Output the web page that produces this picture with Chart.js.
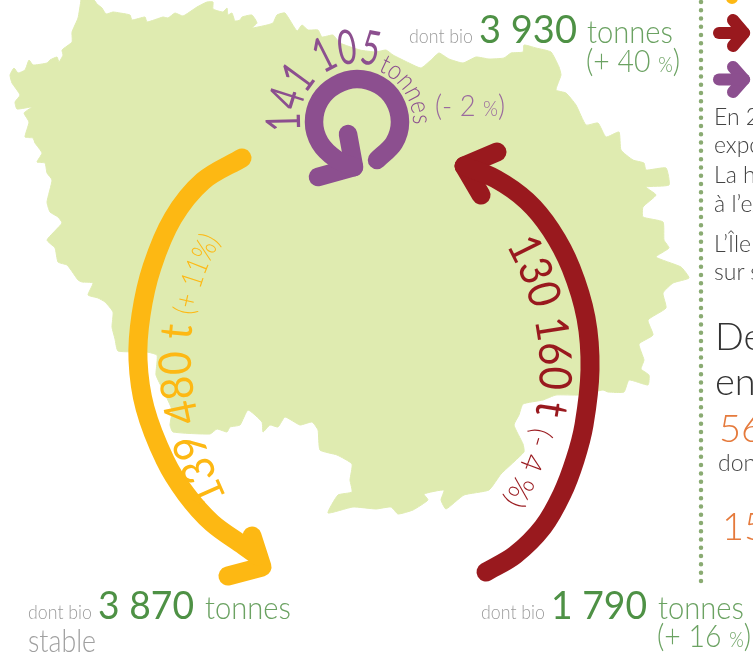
<!DOCTYPE html>
<html lang="fr">
<head>
<meta charset="utf-8">
<title>Flux de céréales</title>
<script src="https://cdn.jsdelivr.net/npm/chart.js@4"></script>
<style>
    html, body { margin: 0; padding: 0; background: #fff; overflow: hidden; }
    #zone { position: relative; width: 753px; height: 654px; overflow: hidden; }
    canvas { display: block; }
    svg { position: absolute; left: 0; top: 0; }
    text { font-family: Lato, sans-serif; font-weight: 300; }
    .bio { font-size: 19px; fill: #9b9b9b; }
    .nb { font-size: 38px; fill: #4e9145; font-weight: 400; }
    .t { font-size: 32px; fill: #6ba262; }
    .pct { font-size: 21px; }
    .corps { font-size: 23px; fill: #444; }
    .titre { font-size: 38px; fill: #333; }
    .orange { font-size: 38px; fill: #e57a3c; }
    .grand { font-size: 45px; font-weight: 400; }
    .petit { font-size: 30px; }
</style>
</head>
<body>
<div id="zone">
<canvas id="carte" width="753" height="654"></canvas>
<svg width="753" height="654" viewBox="0 0 753 654">
    <defs>
        <path id="arcViolet1" d="M 301 131 A 57 57 0 0 1 390 74"/>
        <path id="arcViolet2" d="M 378 71 A 55 55 0 0 1 410 140"/>
        <path id="arcJaune" d="M 227 498 Q 155 345 226 232"/>
        <path id="arcRouge" d="M 506 245 Q 577 374 498 510"/>
    </defs>

    <text class="bio" x="409" y="43" textLength="64" lengthAdjust="spacingAndGlyphs">dont bio</text>
    <text class="nb" x="479" y="43" textLength="98" lengthAdjust="spacingAndGlyphs">3 930</text>
    <text class="t" x="587" y="43" textLength="86" lengthAdjust="spacingAndGlyphs">tonnes</text>
    <text class="t" x="586" y="72" textLength="94" lengthAdjust="spacingAndGlyphs">(+ 40 <tspan class="pct">%</tspan>)</text>

    <text class="bio" x="28" y="619" textLength="64" lengthAdjust="spacingAndGlyphs">dont bio</text>
    <text class="nb" x="98" y="619" textLength="96" lengthAdjust="spacingAndGlyphs">3 870</text>
    <text class="t" x="205" y="619" textLength="86" lengthAdjust="spacingAndGlyphs">tonnes</text>
    <text class="t" x="28" y="652" textLength="68" lengthAdjust="spacingAndGlyphs" style="fill:#a0a0a0">stable</text>

    <text class="bio" x="481" y="619" textLength="64" lengthAdjust="spacingAndGlyphs">dont bio</text>
    <text class="nb" x="551" y="619" textLength="96" lengthAdjust="spacingAndGlyphs">1 790</text>
    <text class="t" x="658" y="619" textLength="86" lengthAdjust="spacingAndGlyphs">tonnes</text>
    <text class="t" x="657" y="647" textLength="94" lengthAdjust="spacingAndGlyphs">(+ 16 <tspan class="pct">%</tspan>)</text>

    <text class="grand" style="fill:#8c4f8f;font-size:48px"><textPath href="#arcViolet1" textLength="120" lengthAdjust="spacingAndGlyphs">141 105</textPath></text>
    <text style="font-size:27px;fill:#8c4f8f"><textPath href="#arcViolet2" textLength="68" lengthAdjust="spacingAndGlyphs">tonnes</textPath></text>
    <text class="t" style="fill:#9a6a9e;font-size:30px" x="435" y="116" textLength="70" lengthAdjust="spacingAndGlyphs">(- 2 <tspan class="pct">%</tspan>)</text>

    <text class="grand" style="fill:#fdb813"><textPath href="#arcJaune" textLength="178" lengthAdjust="spacingAndGlyphs">139 480 t</textPath></text>
    <text class="petit" style="fill:#fdb813"><textPath href="#arcJaune" startOffset="188" textLength="80" lengthAdjust="spacingAndGlyphs">(+ 11%)</textPath></text>
    <text class="grand" style="fill:#99191e"><textPath href="#arcRouge" textLength="175" lengthAdjust="spacingAndGlyphs">130 160 t</textPath></text>
    <text class="petit" style="fill:#99191e"><textPath href="#arcRouge" startOffset="188" textLength="80" lengthAdjust="spacingAndGlyphs">(- 4 %)</textPath></text>

    <text class="corps" x="714" y="125">En 2</text>
    <text class="corps" x="714" y="153">expo</text>
    <text class="corps" x="714" y="183">La h</text>
    <text class="corps" x="714" y="212">à l’ex</text>
    <text class="corps" x="714" y="252">L’Île</text>
    <text class="corps" x="714" y="280">sur s</text>
    <text class="titre" x="715" y="350">De</text>
    <text class="titre" x="715" y="395">en</text>
    <text class="orange" x="719" y="442">56</text>
    <text class="corps" x="718" y="471">don</text>
    <text class="orange" x="722" y="540">15</text>
</svg>
</div>

<script>
const contourCarte = [
    [81,0],[94,0],[97,4],[102,8],[106,14],[113,12],[120,13],[130,15],[132,20],[145,17],[147,22],[163,17],[168,18],
    [175,13],[183,16],[197,7],[207,2],[213,2],[213,9],[223,12],[227,8],[228,15],[232,13],[235,21],[240,20],[242,17],
    [252,15],[257,23],[252,28],[267,25],[273,23],[277,15],[285,13],[297,31],[302,25],[308,30],[318,30],[322,37],
    [333,35],[340,43],[360,50],[376,52],[386,50],[393,55],[409,63],[421,68],[431,60],[439,53],[449,59],[463,63],
    [476,57],[489,59],[504,58],[511,53],[523,52],[524,45],[536,48],[551,52],[559,67],[561,75],[556,90],[566,93],
    [576,105],[586,125],[598,123],[606,137],[619,132],[621,150],[633,160],[644,163],[646,170],[666,168],[669,185],
    [646,187],[656,195],[643,207],[643,217],[663,222],[664,240],[669,248],[656,257],[681,267],[689,278],[673,283],
    [663,293],[666,308],[648,320],[653,335],[639,344],[644,360],[641,369],[649,375],[648,385],[629,380],[624,392],
    [608,392],[603,390],[579,395],[556,395],[543,400],[523,404],[519,415],[514,425],[523,444],[524,452],[501,474],
    [489,490],[464,495],[446,509],[441,500],[444,490],[424,494],[428,500],[413,510],[398,514],[391,507],[376,509],
    [353,507],[328,513],[338,495],[352,492],[350,480],[352,464],[337,455],[320,450],[318,430],[312,422],[300,425],
    [285,417],[278,427],[270,425],[263,432],[262,422],[248,410],[240,425],[230,427],[227,432],[217,429],[210,434],
    [173,432],[170,425],[172,410],[163,390],[156,375],[157,362],[157,355],[147,352],[118,351],[115,339],[112,327],
    [113,312],[105,302],[98,298],[88,295],[93,283],[82,282],[78,280],[71,270],[67,265],[58,262],[55,248],[47,240],
    [62,223],[58,217],[50,212],[47,202],[52,180],[47,173],[45,163],[37,162],[42,153],[35,143],[33,138],[25,137],
    [29,122],[24,113],[32,107],[17,109],[15,102],[20,95],[12,83],[10,75],[14,68],[18,73],[25,70],[29,60],[33,65],
    [47,63],[50,60],[57,57],[59,62],[63,55],[62,50],[72,42],[72,32],[78,18],[81,0]
];

const fluxJaune = [[242,158],[203,181],[173,218],[152,267],[141,315],[138,360],[145,408],[165,460],[186,494],[212,523],[244,546],[258,556]];
const pointeJaune = [[252,536],[262,567],[228,576]];
const fluxRouge = [[486,572],[515,555],[543,527],[562,494],[575,460],[584,425],[590,370],[586,318],[571,268],[551,230],[527,201],[496,179],[464,166]];
const pointeRouge = [[497,152],[464,166],[481,195]];
const fluxViolet = [[377,160],[394,143],[400,122],[394,100],[379,85],[357,79],[336,85],[320,100],[314,122],[320,143],[336,159],[354,167]];
const pointeViolet = [[348,134],[354,167],[318,177]];

const traitPointille = [[701,2],[701,583]];
const legendeJaune = [[732,-10],[732,-2]];
const legendeRouge = [[719,33],[744,33]];
const legendeRougePointe = [[733,20],[744,33],[733,46]];
const legendeViolet = [[719,79.5],[744,79.5]];
const legendeVioletPointe = [[733,67],[744,79.5],[733,92]];

const JAUNE = '#fdb813';
const ROUGE = '#99191e';
const VIOLET = '#8c4f8f';

function trait(points, couleur, largeur, extra) {
    return Object.assign({
        data: points.map(p => ({ x: p[0], y: p[1] })),
        showLine: true,
        borderColor: couleur,
        borderWidth: largeur,
        borderCapStyle: 'round',
        borderJoinStyle: 'round',
        pointRadius: 0,
        fill: false
    }, extra);
}

new Chart(document.getElementById('carte'), {
    type: 'scatter',
    data: {
        datasets: [
            trait(contourCarte, '#dfebb0', 1, { fill: 'shape', backgroundColor: '#dfebb0', tension: 0.15, order: 5 }),
            trait(traitPointille, '#8aab72', 4.5, { borderDash: [0, 8.27], order: 4 }),
            trait(fluxJaune, JAUNE, 19, { tension: 0.33, order: 1 }),
            trait(pointeJaune, JAUNE, 19, { order: 1 }),
            trait(fluxRouge, ROUGE, 19, { tension: 0.33, order: 1 }),
            trait(pointeRouge, ROUGE, 19, { order: 1 }),
            trait(fluxViolet, VIOLET, 18.5, { tension: 0.33, order: 1 }),
            trait(pointeViolet, VIOLET, 18.5, { order: 1 }),
            trait(legendeJaune, JAUNE, 12, { order: 1 }),
            trait(legendeRouge, ROUGE, 12, { order: 1 }),
            trait(legendeRougePointe, ROUGE, 12, { order: 1 }),
            trait(legendeViolet, VIOLET, 12, { order: 1 }),
            trait(legendeVioletPointe, VIOLET, 12, { order: 1 })
        ]
    },
    options: {
        responsive: false,
        animation: false,
        layout: { padding: 0 },
        plugins: { legend: { display: false }, tooltip: { enabled: false } },
        scales: {
            x: { type: 'linear', min: 0, max: 753, display: false },
            y: { type: 'linear', min: 0, max: 654, reverse: true, display: false }
        }
    }
});
</script>
</body>
</html>
